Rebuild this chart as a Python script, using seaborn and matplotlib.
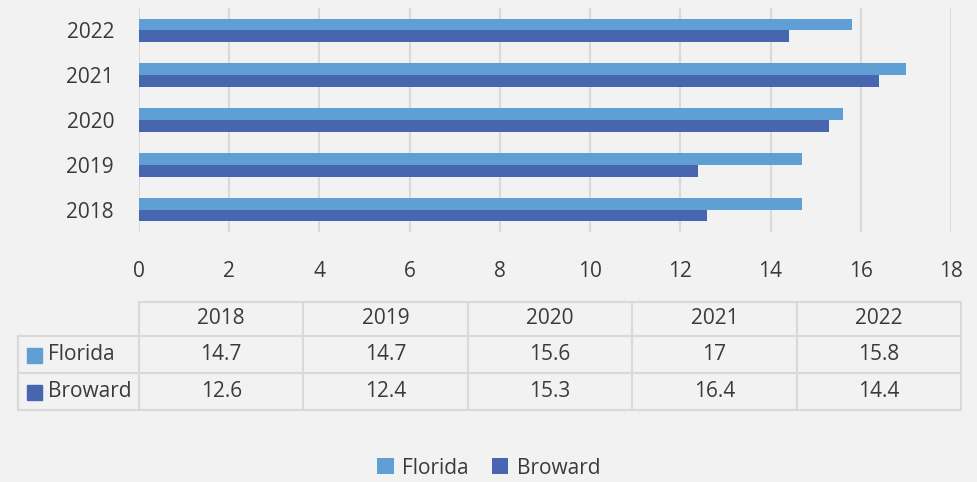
import pandas as pd
import numpy as np
import matplotlib.pyplot as plt
import seaborn as sns
from matplotlib.patches import Rectangle

# data
years = ['2018', '2019', '2020', '2021', '2022']
florida = [14.7, 14.7, 15.6, 17, 15.8]
broward = [12.6, 12.4, 15.3, 16.4, 14.4]
series_names = ['Florida', 'Broward']
x_ticks = [0, 2, 4, 6, 8, 10, 12, 14, 16, 18]

colors = {'Florida': '#5f9fd4', 'Broward': '#4866b0'}
bg = '#f2f2f2'
grid_c = '#d9d9d9'
text_c = '#3a3a3a'
W, H = 977, 482

df = pd.DataFrame({
    'year': years * 2,
    'value': florida + broward,
    'series': ['Florida'] * len(years) + ['Broward'] * len(years),
})

sns.set_style('white')
plt.rcParams['font.family'] = ['Open Sans', 'DejaVu Sans']
plt.rcParams['text.color'] = text_c

fig = plt.figure(figsize=(W / 100, H / 100), dpi=100, facecolor=bg)

# bar chart
ax = fig.add_axes([139 / W, 1 - 232 / H, (951 - 139) / W, (232 - 8) / H])
ax.set_facecolor(bg)
sns.barplot(data=df, y='year', x='value', hue='series', order=years[::-1],
            hue_order=series_names, palette=colors, orient='h', width=0.53,
            saturation=1, linewidth=0, ax=ax, legend=True)
ax.set_xlim(0, 18)
ax.set_xticks(x_ticks)
ax.grid(axis='x', color=grid_c, linewidth=1.5)
ax.set_axisbelow(True)
for s in ax.spines.values():
    s.set_visible(False)
ax.tick_params(axis='both', length=0, labelsize=15, colors=text_c)
ax.tick_params(axis='x', pad=21)
ax.tick_params(axis='y', pad=18)
ax.set_xlabel('')
ax.set_ylabel('')
handles, labels = ax.get_legend_handles_labels()
ax.get_legend().remove()

# data table
tax = fig.add_axes([0, 0, 1, 1])
tax.set_xlim(0, W)
tax.set_ylim(H, 0)
tax.axis('off')
col_edges = np.linspace(139, 961, len(years) + 1)
row_edges = [302, 336, 373, 410]
lw = 1.5
# horizontal lines
tax.plot([139, 961], [row_edges[0]] * 2, color=grid_c, lw=lw)
for y in row_edges[1:]:
    tax.plot([18, 961], [y, y], color=grid_c, lw=lw)
# vertical lines
tax.plot([18, 18], [row_edges[1], row_edges[3]], color=grid_c, lw=lw)
for x in col_edges:
    tax.plot([x, x], [row_edges[0], row_edges[3]], color=grid_c, lw=lw)

for i, yr in enumerate(years):
    cx = (col_edges[i] + col_edges[i + 1]) / 2
    tax.text(cx, (row_edges[0] + row_edges[1]) / 2, yr, ha='center', va='center', fontsize=15)
for r, (name, vals) in enumerate(zip(series_names, [florida, broward])):
    cy = (row_edges[r + 1] + row_edges[r + 2]) / 2
    tax.add_patch(Rectangle((27, cy - 7), 15, 15, color=colors[name]))
    tax.text(48, cy, name, ha='left', va='center', fontsize=15)
    for i, v in enumerate(vals):
        cx = (col_edges[i] + col_edges[i + 1]) / 2
        tax.text(cx, cy, f'{v:g}', ha='center', va='center', fontsize=15)

fig.legend(handles, labels, loc='center', bbox_to_anchor=(0.5, 1 - 468 / H),
           ncol=2, frameon=False, fontsize=15, handlelength=0.8, handleheight=0.8,
           handletextpad=0.4, columnspacing=1.1)

fig.savefig('out.png', dpi=100, facecolor=bg)
